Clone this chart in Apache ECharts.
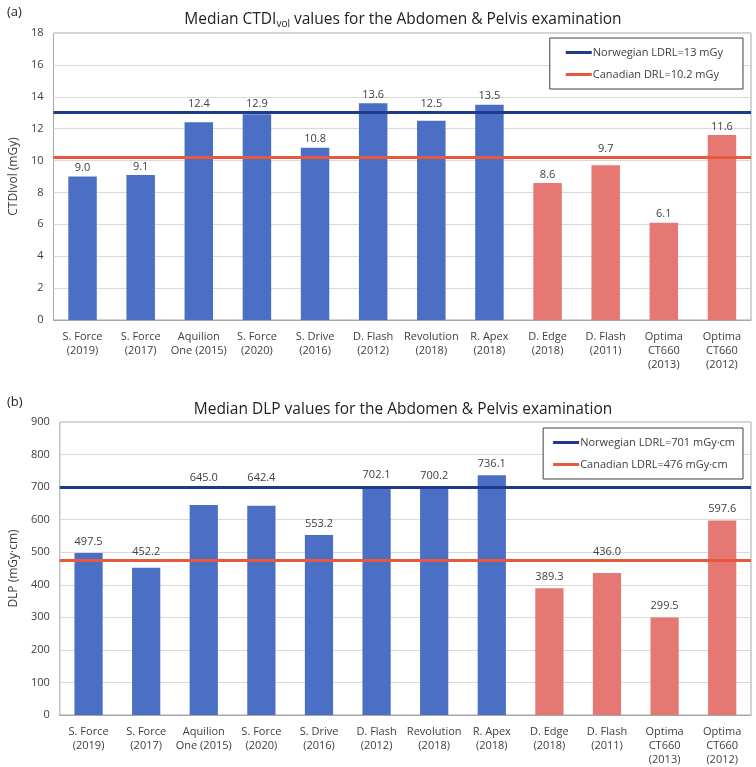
<!DOCTYPE html>
<html>
<head>
<meta charset="utf-8">
<script src="https://cdn.jsdelivr.net/npm/echarts@6/dist/echarts.min.js"></script>
<style>
html,body{margin:0;padding:0;background:#fff;}
#chart{width:756px;height:767px;}
</style>
</head>
<body>
<div id="chart"></div>
<script>
var categories = ['S. Force\n(2019)', 'S. Force\n(2017)', 'Aquilion\nOne (2015)', 'S. Force\n(2020)', 'S. Drive\n(2016)', 'D. Flash\n(2012)', 'Revolution\n(2018)', 'R. Apex\n(2018)', 'D. Edge\n(2018)', 'D. Flash\n(2011)', 'Optima\nCT660\n(2013)', 'Optima\nCT660\n(2012)'];
var barGroup = ['A','A','A','A','A','A','A','A','B','B','B','B'];
var ctdiValues = [9.0, 9.1, 12.4, 12.9, 10.8, 13.6, 12.5, 13.5, 8.6, 9.7, 6.1, 11.6];
var dlpValues = [497.5, 452.2, 645.0, 642.4, 553.2, 702.1, 700.2, 736.1, 389.3, 436.0, 299.5, 597.6];
var ctdiRefNames = ['Norwegian LDRL=13 mGy', 'Canadian DRL=10.2 mGy'];
var ctdiRefValues = [13, 10.2];
var dlpRefNames = ['Norwegian LDRL=701 mGy\u00b7cm', 'Canadian LDRL=476 mGy\u00b7cm'];
var dlpRefValues = [701, 476];
var ctdiTicks = {min: 0, max: 18, interval: 2};
var dlpTicks = {min: 0, max: 900, interval: 100};

var groupColor = {A: '#4A6FC4', B: '#E57873'};
var refColor = ['#1F3A8A', '#E8583C'];
var FONT = '"Open Sans", "Liberation Sans", sans-serif';
var txt = '#404040';
var LABEL_DIST = [3, 6];

function barData(vals) {
  return vals.map(function (v, i) {
    return {value: v, itemStyle: {color: groupColor[barGroup[i]]}};
  });
}

function refSeries(names, vals, idx) {
  return names.map(function (n, k) {
    return {
      name: n, type: 'line', xAxisIndex: idx, yAxisIndex: idx, data: [],
      symbol: 'none',
      itemStyle: {color: refColor[k]},
      lineStyle: {color: refColor[k], width: 3},
      markLine: {
        silent: true, symbol: 'none', animation: false,
        label: {show: false},
        lineStyle: {color: refColor[k], width: 3, type: 'solid'},
        data: [{yAxis: vals[k]}]
      }
    };
  });
}

function xAx(idx) {
  return {
    type: 'category', gridIndex: idx, data: categories,
    axisLine: {lineStyle: {color: '#A6A6A6'}},
    axisTick: {show: false},
    axisLabel: {color: txt, fontSize: 11, fontFamily: FONT, lineHeight: 14, interval: 0, margin: 10}
  };
}
function yAx(idx, t, name) {
  return {
    type: 'value', gridIndex: idx, min: t.min, max: t.max, interval: t.interval,
    name: name, nameLocation: 'middle', nameGap: 28,
    nameTextStyle: {color: txt, fontSize: 12, fontFamily: FONT},
    axisLine: {show: false}, axisTick: {show: false},
    axisLabel: {color: txt, fontSize: 11, fontFamily: FONT, margin: 10},
    splitLine: {lineStyle: {color: '#D9D9D9'}}
  };
}
function legendOf(names, top, pad) {
  return {
    data: names, orient: 'vertical', right: 13, top: top,
    icon: 'rect', itemWidth: 26, itemHeight: 3, itemGap: 11,
    padding: pad,
    borderColor: '#404040', borderWidth: 1, backgroundColor: '#fff',
    textStyle: {color: txt, fontSize: 11, fontFamily: FONT, padding: [0, 0, 0, -4]}
  };
}

var titleRich = {
  a: {fontSize: 15.5, color: '#222', fontFamily: FONT, fontWeight: 'normal'},
  s: {fontSize: 10, color: '#222', fontFamily: FONT, fontWeight: 'normal', verticalAlign: 'bottom', padding: [8, 0, 0, 0]}
};

function barLabel(idx) {
  return {show: true, position: 'top', distance: LABEL_DIST[idx], color: txt, fontSize: 11, fontFamily: FONT,
    formatter: function (p) { return p.value.toFixed(1); }};
}

var option = {
  animation: false,
  title: [
    {text: '(a)', left: 2, top: 1, textStyle: {fontSize: 13, fontWeight: 'normal', color: '#222', fontFamily: FONT}},
    {text: '{a|Median CTDI}{s|vol}{a| values for the Abdomen & Pelvis examination}', left: 398, textAlign: 'center', top: 6,
      textStyle: {fontWeight: 'normal', rich: titleRich}},
    {text: '(b)', left: 2, top: 391, textStyle: {fontSize: 13, fontWeight: 'normal', color: '#222', fontFamily: FONT}},
    {text: 'Median DLP values for the Abdomen & Pelvis examination', left: 398, textAlign: 'center', top: 397,
      textStyle: {fontSize: 15.5, fontWeight: 'normal', color: '#222', fontFamily: FONT}}
  ],
  legend: [legendOf(ctdiRefNames, 38, [9, 20, 9, 16]), legendOf(dlpRefNames, 428, [9, 8, 9, 10])],
  grid: [
    {left: 45, right: 5, top: 33, height: 287, show: true, borderColor: '#A6A6A6', borderWidth: 1, backgroundColor: 'transparent'},
    {left: 45, right: 5, top: 422, height: 293, show: true, borderColor: '#A6A6A6', borderWidth: 1, backgroundColor: 'transparent'}
  ],
  xAxis: [xAx(0), xAx(1)],
  yAxis: [yAx(0, ctdiTicks, 'CTDIvol (mGy)'), yAx(1, dlpTicks, 'DLP (mGy\u00b7cm)')],
  series: [
    {type: 'bar', xAxisIndex: 0, yAxisIndex: 0, barWidth: '49%', data: barData(ctdiValues), label: barLabel(0)},
    {type: 'bar', xAxisIndex: 1, yAxisIndex: 1, barWidth: '49%', data: barData(dlpValues), label: barLabel(1)}
  ].concat(refSeries(ctdiRefNames, ctdiRefValues, 0)).concat(refSeries(dlpRefNames, dlpRefValues, 1))
};

var chart = echarts.init(document.getElementById('chart'), null, {renderer: 'canvas'});
chart.setOption(option);

// Lift any value label that would sit on a reference line to just above that line.
function liftLabels(vals, refs, idx) {
  return vals.map(function (v, i) {
    var top = chart.convertToPixel({xAxisIndex: idx, yAxisIndex: idx}, [i, v])[1];
    var center = top - LABEL_DIST[idx] - 7;
    var shift = 0;
    refs.forEach(function (r) {
      var ly = chart.convertToPixel({xAxisIndex: idx, yAxisIndex: idx}, [i, r])[1];
      var d = center - ly;
      if (d > -10 && d < 7) {
        shift = Math.min(shift, (ly - 10) - center);
      }
    });
    var item = {value: v, itemStyle: {color: groupColor[barGroup[i]]}};
    if (shift) item.label = {offset: [0, shift]};
    return item;
  });
}
chart.setOption({
  series: [
    {data: liftLabels(ctdiValues, ctdiRefValues, 0)},
    {data: liftLabels(dlpValues, dlpRefValues, 1)}
  ]
});
</script>
</body>
</html>
